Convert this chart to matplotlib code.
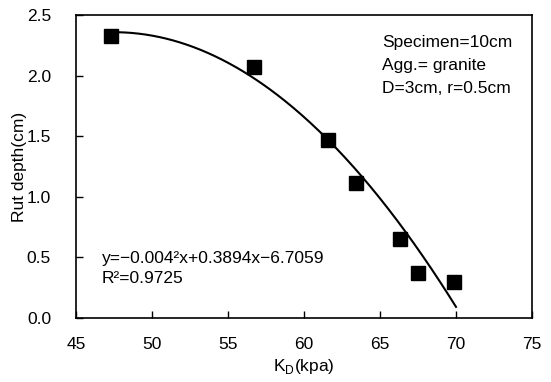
import numpy as np
import matplotlib
matplotlib.use("Agg")
import matplotlib.pyplot as plt

plt.rcParams['font.family'] = ['Liberation Sans', 'DejaVu Sans']

# measured points (K_D in kpa, rut depth in cm)
kd = [47.3, 56.7, 61.6, 63.4, 66.3, 67.5, 69.9]
rut = [2.33, 2.07, 1.47, 1.11, 0.65, 0.37, 0.30]

# quadratic trend line as drawn on the chart
fit_a, fit_b, fit_c = -0.00447, 0.4245, -7.72
fit_range = (47.3, 70.0)

xticks = [45, 50, 55, 60, 65, 70, 75]
yticks = [0.0, 0.5, 1.0, 1.5, 2.0, 2.5]

note_lines = ['Specimen=10cm', 'Agg.= granite', 'D=3cm, r=0.5cm']
eq_lines = ['y=\u22120.004\u00b2x+0.3894x\u22126.7059', 'R\u00b2=0.9725']

fig = plt.figure(figsize=(5.51, 3.82), dpi=100)
ax = fig.add_axes([0.138, 0.1675, 0.8275, 0.7932])

xs = np.linspace(fit_range[0], fit_range[1], 200)
ax.plot(xs, fit_a * xs**2 + fit_b * xs + fit_c, color='black', lw=1.5)
ax.plot(kd, rut, 's', color='black', ms=10, ls='none')

ax.set_xlim(45, 75)
ax.set_ylim(0, 2.5)
ax.set_xticks(xticks)
ax.set_yticks(yticks)
ax.set_yticklabels([f"{v:.1f}" for v in yticks])
ax.tick_params(direction='in', length=5, labelsize=12.5, width=1)
ax.tick_params(axis='x', pad=14)
ax.tick_params(axis='y', pad=18)
for s in ax.spines.values():
    s.set_linewidth(1.2)

ax.set_xlabel(r'K$_\mathregular{D}$(kpa)', fontsize=12.5)
ax.set_ylabel('Rut depth(cm)', fontsize=12.5)
ax.xaxis.set_label_coords(0.5, -0.13)
ax.yaxis.set_label_coords(-0.107, 0.5)

for i, line in enumerate(note_lines):
    ax.text(0.671, 0.908 - i * 0.075, line, transform=ax.transAxes,
            fontsize=12.5, va='center', ha='left')
for i, line in enumerate(eq_lines):
    ax.text(0.057, 0.198 - i * 0.066, line, transform=ax.transAxes,
            fontsize=12.5, va='center', ha='left')

fig.savefig('out.png', dpi=100)
